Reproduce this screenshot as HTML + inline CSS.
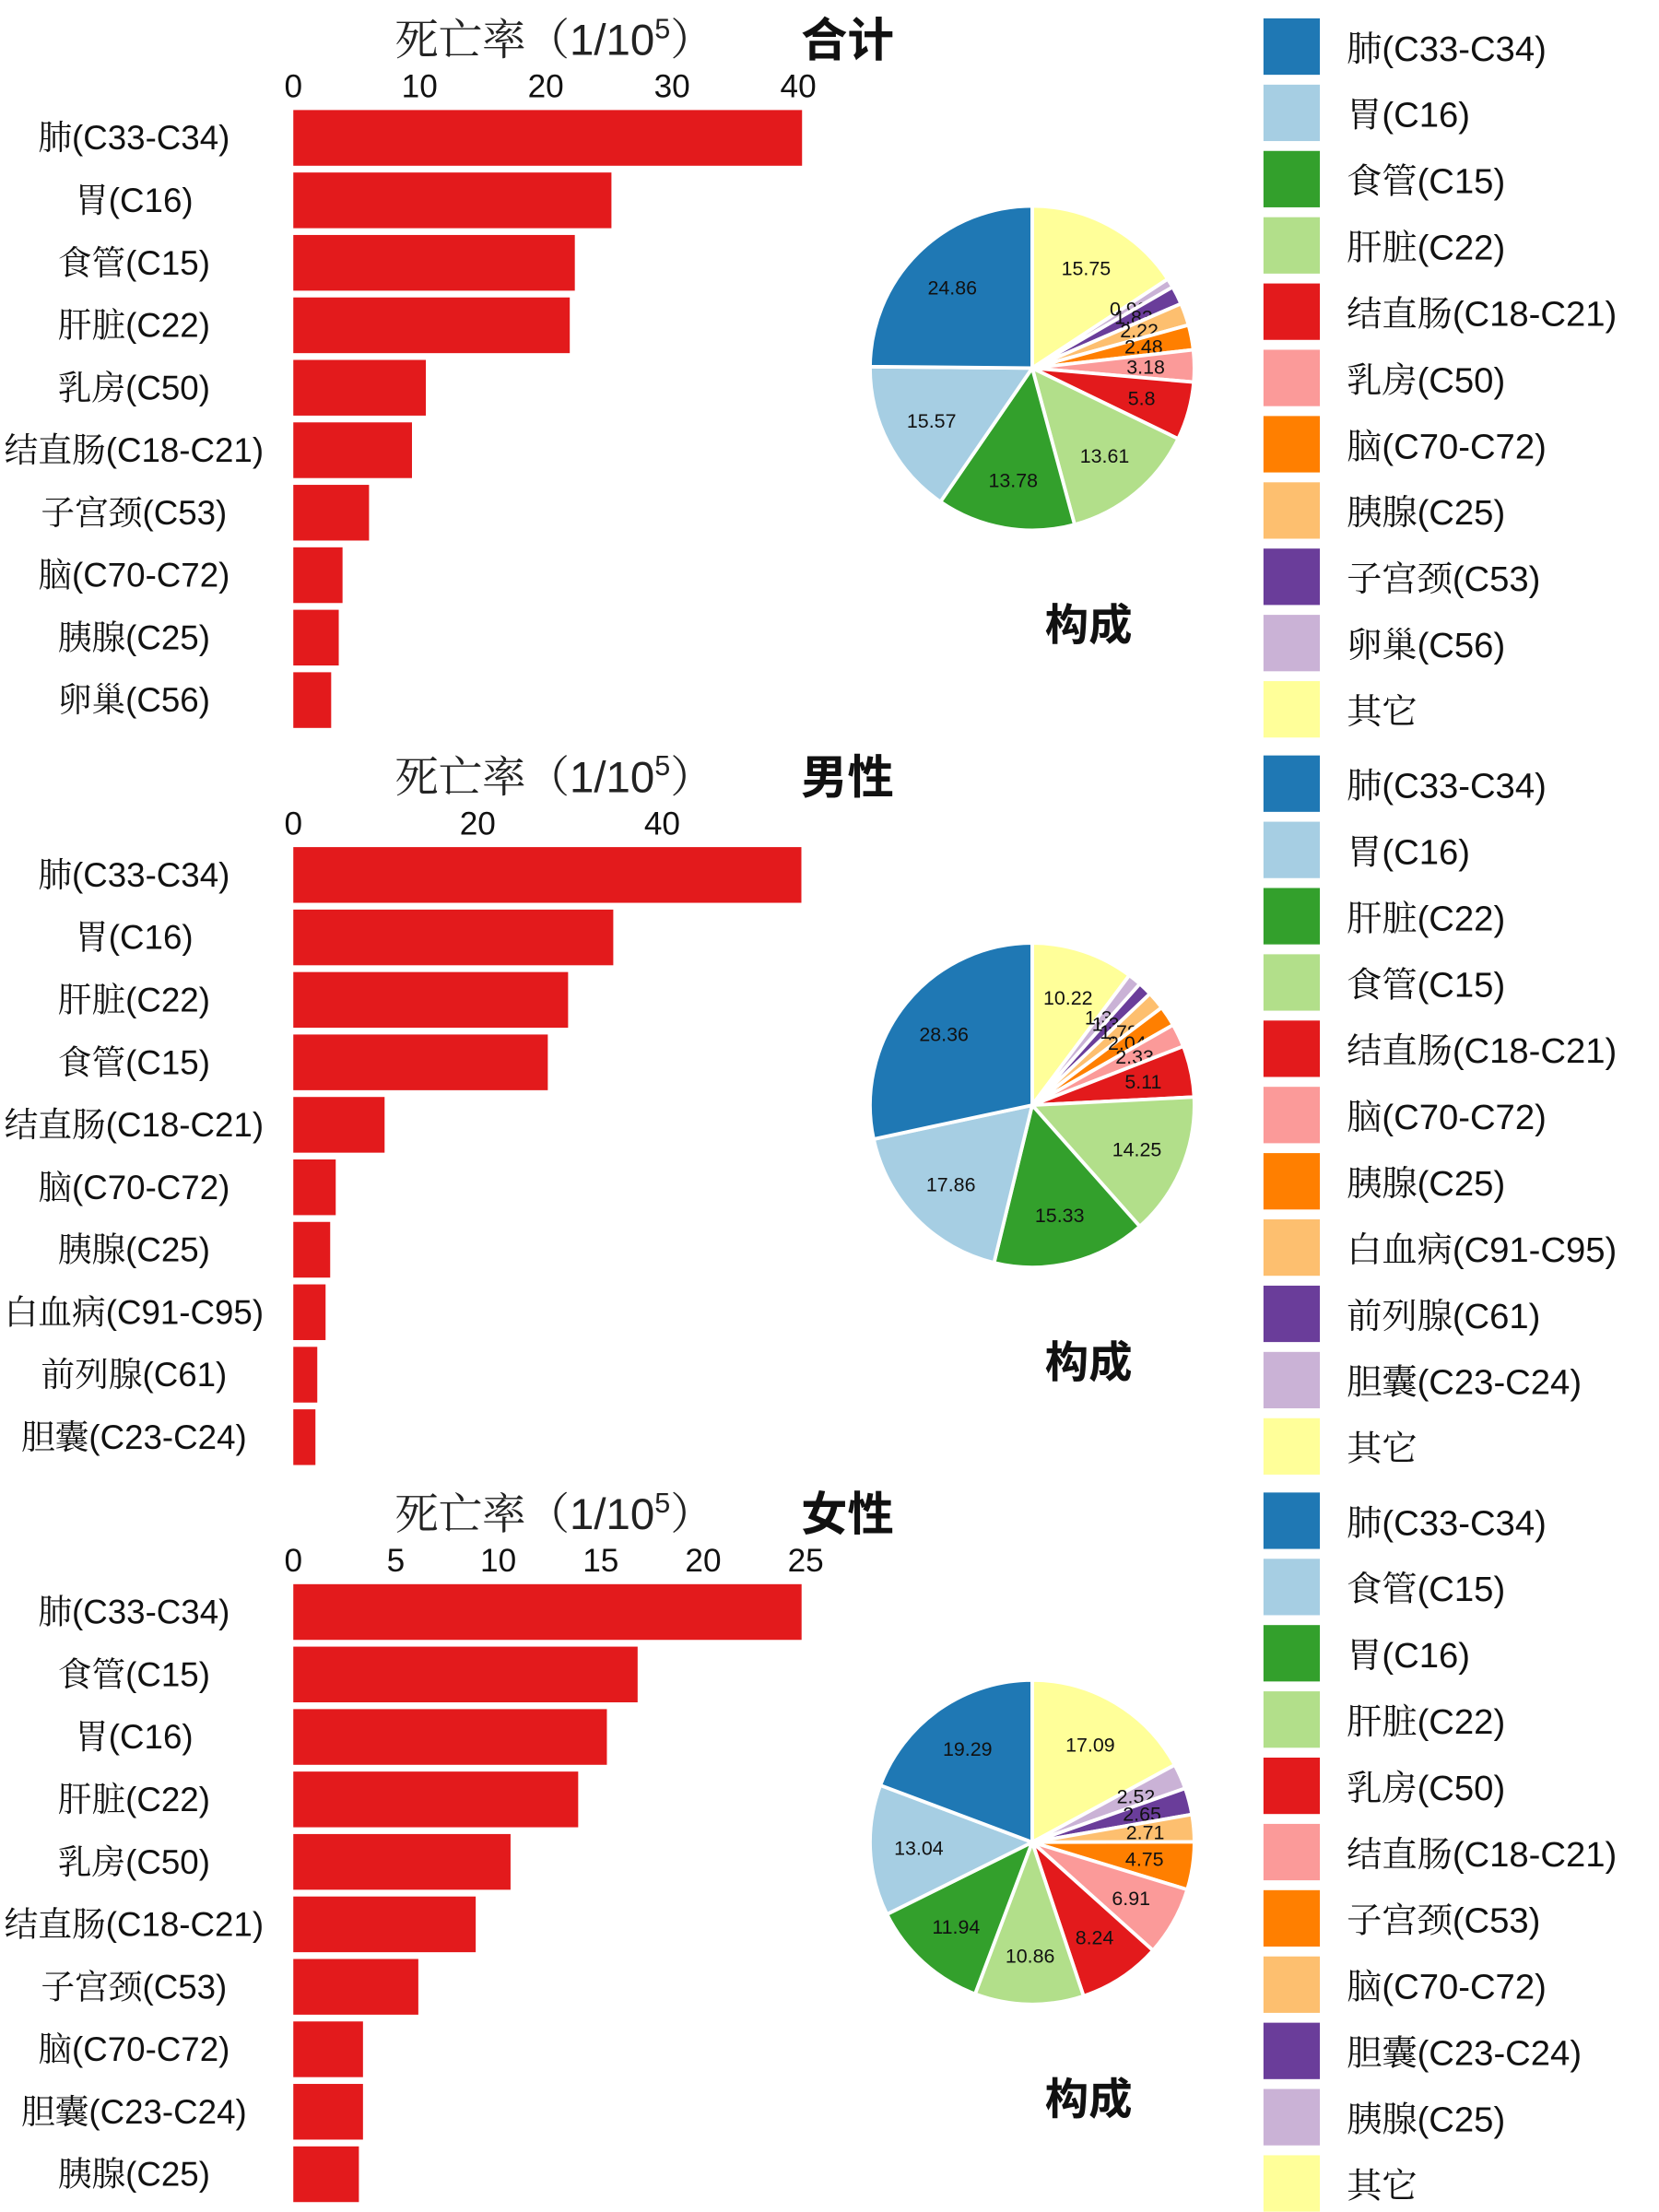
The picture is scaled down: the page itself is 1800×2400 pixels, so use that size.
<!DOCTYPE html>
<html><head><meta charset="utf-8"><style>
html,body{margin:0;padding:0;background:#fff;}
svg{display:block;}
text{font-family:"Liberation Sans","Noto Serif CJK SC",serif;}
.b{font-family:"Liberation Sans","Noto Sans CJK SC",sans-serif;font-weight:bold;}
</style></head><body>
<svg id="chart" width="1800" height="2400" viewBox="0 0 1176.5 1568.6" xmlns="http://www.w3.org/2000/svg"></svg>
<script>
const panelTitles = ["合计", "男性", "女性"];
const cats0 = ["肺(C33-C34)","胃(C16)","食管(C15)","肝脏(C22)","乳房(C50)","结直肠(C18-C21)","子宫颈(C53)","脑(C70-C72)","胰腺(C25)","卵巢(C56)"];
const vals0 = [40.3,25.2,22.3,21.9,10.5,9.4,6.0,3.9,3.6,3.0];
const ticks0 = [0,10,20,30,40];
const pieVals0 = [24.86,15.57,13.78,13.61,5.8,3.18,2.48,2.22,1.83,0.92,15.75];
const legend0 = ["肺(C33-C34)","胃(C16)","食管(C15)","肝脏(C22)","结直肠(C18-C21)","乳房(C50)","脑(C70-C72)","胰腺(C25)","子宫颈(C53)","卵巢(C56)","其它"];

const cats1 = ["肺(C33-C34)","胃(C16)","肝脏(C22)","食管(C15)","结直肠(C18-C21)","脑(C70-C72)","胰腺(C25)","白血病(C91-C95)","前列腺(C61)","胆囊(C23-C24)"];
const vals1 = [55.1,34.7,29.8,27.6,9.9,4.6,4.0,3.5,2.6,2.4];
const ticks1 = [0,20,40];
const pieVals1 = [28.36,17.86,15.33,14.25,5.11,2.33,2.04,1.78,1.39,1.33,10.22];
const legend1 = ["肺(C33-C34)","胃(C16)","肝脏(C22)","食管(C15)","结直肠(C18-C21)","脑(C70-C72)","胰腺(C25)","白血病(C91-C95)","前列腺(C61)","胆囊(C23-C24)","其它"];

const cats2 = ["肺(C33-C34)","食管(C15)","胃(C16)","肝脏(C22)","乳房(C50)","结直肠(C18-C21)","子宫颈(C53)","脑(C70-C72)","胆囊(C23-C24)","胰腺(C25)"];
const vals2 = [24.8,16.8,15.3,13.9,10.6,8.9,6.1,3.4,3.4,3.2];
const ticks2 = [0,5,10,15,20,25];
const pieVals2 = [19.29,13.04,11.94,10.86,8.24,6.91,4.75,2.71,2.65,2.52,17.09];
const legend2 = ["肺(C33-C34)","食管(C15)","胃(C16)","肝脏(C22)","乳房(C50)","结直肠(C18-C21)","子宫颈(C53)","脑(C70-C72)","胆囊(C23-C24)","胰腺(C25)","其它"];

const domainMax = [40.1, 54.9, 24.7];

const palette = ["#1F78B4","#A6CEE3","#33A02C","#B2DF8A","#E31A1C","#FB9A99","#FF7F00","#FDBF6F","#6A3D9A","#CAB2D6","#FFFF99"];

const svg = document.getElementById('chart');
const NS = "http://www.w3.org/2000/svg";
function mk(tag, attrs, parent){const e=document.createElementNS(NS,tag);for(const k in attrs)e.setAttribute(k,attrs[k]);(parent||svg).appendChild(e);return e;}

const panels = [
 {cats:cats0,vals:vals0,ticks:ticks0,pie:pieVals0,leg:legend0},
 {cats:cats1,vals:vals1,ticks:ticks1,pie:pieVals1,leg:legend1},
 {cats:cats2,vals:vals2,ticks:ticks2,pie:pieVals2,leg:legend2}
];
const x0=208, xMaxPx=567;
panels.forEach((p,pi)=>{
  const oy = pi*522.7;
  const g = mk('g',{});
  
  
  const xs = v => x0 + v/domainMax[pi]*(xMaxPx-x0);
  const t = mk('text',{x:280,y:oy+39,'font-size':31,fill:'#222'},g);
  
  
  t.innerHTML = '死亡率（1/10<tspan dy="-12" font-size="20">5</tspan><tspan dy="12">）</tspan>';
  const pt = mk('text',{x:568,y:oy+40,'font-size':33,fill:'#111',class:'b'},g);
  
  
  pt.textContent = panelTitles[pi];
  p.ticks.forEach(tv=>{
    const tt = mk('text',{x:xs(tv),y:oy+69,'font-size':23,'text-anchor':'middle',fill:'#111'},g);
    
    
    tt.textContent = tv;
  });
  p.vals.forEach((v,i)=>{
    const y = oy + 78 + i*44.3;
    const r = mk('rect',{x:x0,y:y,width:xs(v)-x0,height:39.5,fill:'#E31A1C'},g);
    
    
    const lt = mk('text',{x:95,y:y+28,'font-size':24,'text-anchor':'middle',fill:'#111'},g);
    
    
    lt.textContent = p.cats[i];
  });
  const cx=732, cy=oy+261, R=115;
  const total = p.pie.reduce((a,b)=>a+b,0);
  let ang = 0;
  for(let k=p.pie.length-1;k>=0;k--){
    const v=p.pie[k];
    const a0=ang, a1=ang+v/total*2*Math.PI; ang=a1;
    const px=a=>cx+R*Math.sin(a), py=a=>cy-R*Math.cos(a);
    const large = (a1-a0)>Math.PI?1:0;
    const path = mk('path',{d:`M${cx},${cy} L${px(a0)},${py(a0)} A${R},${R} 0 ${large} 1 ${px(a1)},${py(a1)} Z`,fill:palette[k],stroke:'#fff','stroke-width':2.5},g);
    
    
    const am=(a0+a1)/2, lr=R*0.7;
    const lt = mk('text',{x:cx+lr*Math.sin(am),y:cy-lr*Math.cos(am)+5,'font-size':14,'text-anchor':'middle',fill:'#111'},g);
    
    
    lt.textContent = v;
  }
  const ct = mk('text',{x:772,y:oy+454,'font-size':31,'text-anchor':'middle',fill:'#111',class:'b'},g);
  
  
  ct.textContent='构成';
  p.leg.forEach((name,i)=>{
    const y = oy + 13 + i*47;
    const sw = mk('rect',{x:896,y:y,width:40,height:40,fill:palette[i]},g);
    
    
    const lt = mk('text',{x:955,y:y+30,'font-size':25,fill:'#111'},g);
    
    
    lt.textContent = name;
  });
});
</script>
</body></html>
